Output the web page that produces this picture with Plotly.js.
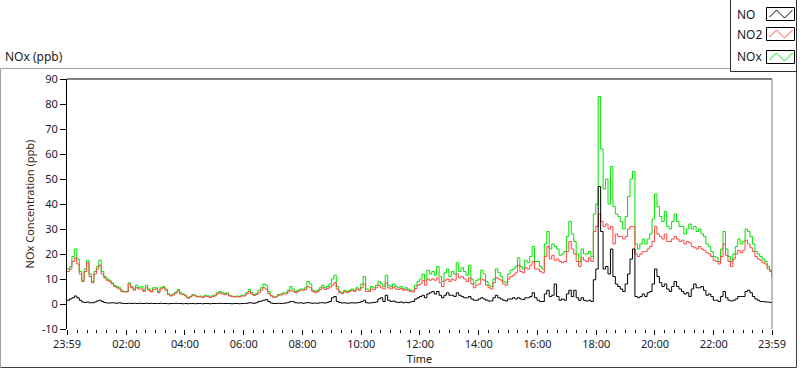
<!DOCTYPE html>
<html>
<head>
<meta charset="utf-8">
<script src="https://cdn.plot.ly/plotly-3.0.1.min.js"></script>
<style>
  html, body { margin: 0; padding: 0; background: #ffffff; }
  #chart { width: 800px; height: 369px; }
</style>
</head>
<body>
<div id="chart"></div>
<script>
// ---------------- DATA ----------------
// Samples every 5 minutes from 23:59 (day 1) to 23:59 (day 2)
const startTime = '2020-01-01 23:59';
const endTime = '2020-01-02 23:59';
const stepMinutes = 5;

const seriesNames = ['NO', 'NO2', 'NOx'];

const noxValues = [
  14,15,19,22,18,13,9.5,14,17.5,12,9,13,
  15,17.5,13,11,10,9.5,8.5,7.5,7,6.5,5.5,5,
  5,8.5,7,6,7.5,6.5,7,5.5,7.5,6,5,6.5,
  6.5,5,6.5,7,6,4,3.5,4,4.8,5.8,4.5,4,
  3.5,2.5,3,3.8,3.5,3,3.2,2.8,3.5,3.3,2.8,3.3,
  3.5,4.5,5,4.5,4.2,4.5,3.5,3.2,3,3.2,3,3.5,
  3.5,4.5,5.8,4.5,3.8,4.2,5.5,6.5,8,7.5,5,3.5,
  2.8,3,3.8,4,4.5,4.5,5.5,7,6,5,5.5,6,
  6,6.5,9,8,5.5,5,5.5,6.5,7.5,6.5,7,8,
  10,11.5,7,5,4.5,5.5,5,5.5,6,5.5,6.5,6,
  8,11,6,5.5,7,6.5,7.5,9,8,7,11.5,7.5,
  7,8,7,6.5,7,6,6.5,6,5.5,5.5,7.5,9,
  10,12,9.5,13.5,12,13,11.5,15,11,9,12.5,14,
  11,13,12,16.5,13,14.5,13,11.5,15.5,10,8,9.5,
  10,13.5,12,9,7.5,7,10,14,12.5,11,9,8.5,
  12,13.5,14,15,18.5,15,14,17.5,16.5,19,23,17,
  17,15,14,24,29,22,24,23,22,19.5,20,21,
  27,33,28,25,20,17,22,20,20,21,19,36,
  40,83,62,46,50,40,55,39,36,35,33,30,
  35,43,50,53,24,22,24,26,24,26,28,34,
  44,39,35,33,37,31,30,33,36,33,31,31,
  28,30,32,30,31,29,30,28,27,24,23,21,
  19,18.5,17,22,29,22,19,17,20,23,26,24,
  25,30,29,27,24,21,20,19,18,17,15,13.5,
  11
];

const no2Values = [
  13,14,17,18.5,16,12,9,13,16.5,11,8.5,12,
  14,15.5,12,10.5,9.5,9,8,7,6.5,6,5,4.8,
  4.8,8,6.5,5.5,6.5,6,6,5,6.5,5.5,4.8,5.8,
  6,4.5,6,6.5,5.5,3.8,3.2,3.6,4.3,5.2,4,3.8,
  3.2,2.3,2.8,3.5,3.2,2.8,2.9,2.6,3.1,3,2.6,3,
  3.2,4,4.5,4,3.8,4,3.2,3,2.8,2.9,2.8,3.2,
  3.2,4,5,4,3.4,3.8,4.5,5.5,6.5,6,4.2,3.2,
  2.6,2.8,3.5,3.6,4,4,4.8,5.5,5,4.5,5,5.5,
  5.5,5.8,7,6.5,5,4.5,5,5.8,6.5,5.8,6.2,6.8,
  7.5,8.5,6,4.5,4.2,5,4.5,5,5.5,5,5.8,5.5,
  6.5,8,5,5,6,5.8,6.5,7.5,6.5,6,8.5,6.5,
  6,6.8,6,5.8,6.2,5.5,5.8,5.3,5,4.8,6.2,7.5,
  8,9.5,7.5,10,9.5,10,9.5,10.5,8.5,7,9.5,10,
  9,10,9.5,12,10.5,11,10,9,10.5,8,6.5,7.5,
  8,10,9.5,7.5,6.5,6,8.5,10.5,10,9.5,8,7.5,
  10,11,11.5,12.5,15.5,13,12.5,14.5,14,15.5,17,14,
  14,13,12.5,19,23,18,19.5,17.5,18,17,16.5,17,
  21,25,22,20,17,15,18.5,17.5,17,18.5,17,29,
  31,36,33,31,32,30,31,24,28,27,27,26,
  27,30,31,31,20,19,20,21,21,22,23,25,
  31,28,27,26,28,25,25,26,27,26,25,25.5,
  24,25,24.5,23,22.5,22,23,22,21.5,20.5,20,19,
  17.5,17,16,19,24,19.5,17,15,18,20,21.5,20.5,
  21.5,25.5,24,22.5,21,19,18,17.5,16.5,16,14,13,
  10.5
];

const noValues = [
  1.5,2,2.5,3.2,2.5,1.5,0.8,0.6,0.8,0.5,0.5,0.8,
  1.2,1.5,1,0.6,0.4,0.4,0.5,0.4,0.3,0.5,0.3,0.2,
  0.2,0.3,0.2,0.3,0.2,0.3,0.2,0.2,0.3,0.2,0.3,0.2,
  0.2,0.2,0.3,0.2,0.2,0.1,0.2,0.2,0.3,0.2,0.2,0.1,
  0.2,0.1,0.2,0.2,0.1,0.2,0.2,0.1,0.2,0.2,0.1,0.2,
  0.2,0.2,0.3,0.2,0.2,0.2,0.2,0.1,0.2,0.2,0.1,0.2,
  0.2,0.3,0.5,0.4,0.3,0.5,1,1.2,1.5,1.8,1,0.4,
  0.2,0.2,0.3,0.2,0.3,0.4,0.6,1,0.9,0.5,0.4,0.5,
  0.3,0.4,0.6,0.4,0.3,0.4,0.3,0.5,0.5,0.4,0.6,1,
  2.5,3,1,0.6,0.4,0.5,0.3,0.4,0.5,0.4,0.5,0.6,
  1,1.5,0.5,0.4,0.5,0.6,0.8,2,2.5,1,3.5,1.5,
  1,1.2,0.8,0.6,0.8,0.5,0.7,0.5,0.8,1,2,2.5,
  3,3.5,2.5,4,4.5,5,4,5,3.5,2.5,3.5,4.5,
  3.5,3.5,3,4.5,3.5,3,2.5,2.5,3,2,1.5,1.5,
  2,2.5,2,1.5,1.2,1.2,2.5,3.5,2.5,2,1.5,1.2,
  2,2,2.5,2,2.5,2,1.8,2.5,2.5,3,4.5,2.5,
  1.5,1,1,4,5.5,3,3.5,8,3,1.5,2,1.5,
  4,5.5,3,5.5,2.5,1.5,2.5,1.5,1.2,1.5,1,9.7,
  14,47,29,14,15,12,22,11,8,7,6,5,
  8,12,18,22,3,2.5,3,4,3,4.5,5,8,
  14,11,8.5,7,8,6,5,7,9,7,6,5,
  4,4.5,3,6,8,6.5,6.5,7,5.5,3.5,4,3,
  1.5,1.5,1,3,5,2.5,1.5,1.2,1.5,2,3,3,
  3,5,5.5,4.5,3,2,1.5,1,1,0.8,0.8,0.6,
  0.5
];

const xTickVals = ['2020-01-01 23:59','2020-01-02 02:00','2020-01-02 04:00','2020-01-02 06:00',
  '2020-01-02 08:00','2020-01-02 10:00','2020-01-02 12:00','2020-01-02 14:00','2020-01-02 16:00',
  '2020-01-02 18:00','2020-01-02 20:00','2020-01-02 22:00','2020-01-02 23:59'];
const xTickText = ['23:59','02:00','04:00','06:00','08:00','10:00','12:00','14:00','16:00',
  '18:00','20:00','22:00','23:59'];
const yTickVals = [-10,0,10,20,30,40,50,60,70,80,90];
const yTickText = ['-10','0','10','20','30','40','50','60','70','80','90'];

// ---------------- BUILD ----------------
function pad(n){ return (n<10?'0':'')+n; }
function buildTimes(start, step, count){
  const p = start.split(/[- :]/).map(Number);
  const base = Date.UTC(p[0], p[1]-1, p[2], p[3], p[4]);
  const out = [];
  for (let i=0;i<count;i++){
    const d = new Date(base + i*step*60000);
    out.push(d.getUTCFullYear()+'-'+pad(d.getUTCMonth()+1)+'-'+pad(d.getUTCDate())+' '+pad(d.getUTCHours())+':'+pad(d.getUTCMinutes()));
  }
  return out;
}
const times = buildTimes(startTime, stepMinutes, noxValues.length);

const FONT = 'Noto Sans, Open Sans, Arial, sans-serif';
const colors = { NO: '#000000', NO2: '#ff4646', NOx: '#00e400' };

const traces = [
  { x: times, y: noxValues, name: 'NOx', type: 'scatter', mode: 'lines',
    line: { color: colors.NOx, width: 1, shape: 'hv' } },
  { x: times, y: no2Values, name: 'NO2', type: 'scatter', mode: 'lines',
    line: { color: colors.NO2, width: 1, shape: 'hv' } },
  { x: times, y: noValues, name: 'NO', type: 'scatter', mode: 'lines',
    line: { color: colors.NO, width: 1, shape: 'hv' } }
];

// pixel -> paper helpers for decoration
const W=800, H=369, ML=67, MR=28, MT=79, MB=40;
const PW = W-ML-MR, PH = H-MT-MB;
const px = x => (x-ML)/PW;
const py = y => (H-MB-y)/PH;

const shapes = [];
// outer frame
shapes.push({type:'path', xref:'paper', yref:'paper',
  path:`M ${px(0.5)},${py(367.5)} L ${px(0.5)},${py(68.5)} L ${px(730)},${py(68.5)}`,
  line:{color:'#a0a0a0', width:1}});
shapes.push({type:'path', xref:'paper', yref:'paper',
  path:`M ${px(0.5)},${py(367.5)} L ${px(796.5)},${py(367.5)} L ${px(796.5)},${py(68.5)}`,
  line:{color:'#404040', width:1}});
// plot top and right borders
shapes.push({type:'line', xref:'paper', yref:'paper', x0:0, x1:1, y0:1, y1:1, line:{color:'#000', width:1}});
shapes.push({type:'line', xref:'paper', yref:'paper', x0:1, x1:1, y0:0, y1:1, line:{color:'#808080', width:1}});
// legend box
shapes.push({type:'rect', xref:'paper', yref:'paper', x0:px(730.5), x1:px(796.5), y0:py(71.5), y1:py(-2),
  fillcolor:'#ffffff', line:{color:'#303030', width:1}});
const legendRows = [
  { name: seriesNames[0], color: colors.NO, top: 7.5 },
  { name: seriesNames[1], color: colors.NO2, top: 27.5 },
  { name: seriesNames[2], color: colors.NOx, top: 50.5 }
];
const annotations = [];
legendRows.forEach(r => {
  shapes.push({type:'rect', xref:'paper', yref:'paper', x0:px(766.5), x1:px(794.5), y0:py(r.top+13), y1:py(r.top),
    fillcolor:'#ffffff', line:{color:'#000', width:1}});
  shapes.push({type:'path', xref:'paper', yref:'paper',
    path:`M ${px(769.5)},${py(r.top+9.5)} L ${px(776.5)},${py(r.top+2.5)} L ${px(784.5)},${py(r.top+10.5)} L ${px(792.5)},${py(r.top+2.5)}`,
    line:{color:r.color, width:1}});
  annotations.push({xref:'paper', yref:'paper', x:px(735), y:py(r.top+6.5), xanchor:'left', yanchor:'middle',
    text:r.name, showarrow:false, font:{family:FONT, size:12, color:'#1a1a1a'}});
});
annotations.push({xref:'paper', yref:'paper', x:px(3), y:py(57), xanchor:'left', yanchor:'middle',
  text:'NOx (ppb)', showarrow:false, font:{family:FONT, size:12, color:'#1a1a1a'}});

const layout = {
  width: W, height: H,
  margin: { l: ML, r: MR, t: MT, b: MB, pad: 0 },
  paper_bgcolor: '#ffffff', plot_bgcolor: '#ffffff',
  showlegend: false,
  font: { family: FONT, size: 11, color: '#1a1a1a' },
  xaxis: {
    type: 'date', range: [startTime, endTime],
    tickmode: 'array', tickvals: xTickVals, ticktext: xTickText,
    ticks: 'outside', ticklen: 5, tickcolor: '#000', tickwidth: 1,
    minor: { dtick: 20*60*1000, tick0: '2020-01-01 00:00', ticks: 'outside', ticklen: 3, tickcolor: '#000', showgrid: false },
    showline: false, showgrid: false, zeroline: false,
    tickfont: { family: FONT, size: 11, color: '#1a1a2a' },
    title: { text: 'Time', font: { family: FONT, size: 11, color: '#1a1a1a' }, standoff: 2 },
    automargin: false
  },
  yaxis: {
    range: [-10, 90],
    tickmode: 'array', tickvals: yTickVals, ticktext: yTickText,
    ticks: 'outside', ticklen: 6, tickcolor: '#000', tickwidth: 1,
    showline: true, linecolor: '#000', linewidth: 1,
    showgrid: false, zeroline: false,
    tickfont: { family: FONT, size: 11, color: '#1a1a2a' },
    title: { text: 'NOx Concentration (ppb)', font: { family: FONT, size: 11, color: '#3a2418' }, standoff: 4 },
    automargin: false
  },
  shapes: shapes,
  annotations: annotations
};

Plotly.newPlot('chart', traces, layout, { displayModeBar: false, staticPlot: true });
</script>
</body>
</html>
